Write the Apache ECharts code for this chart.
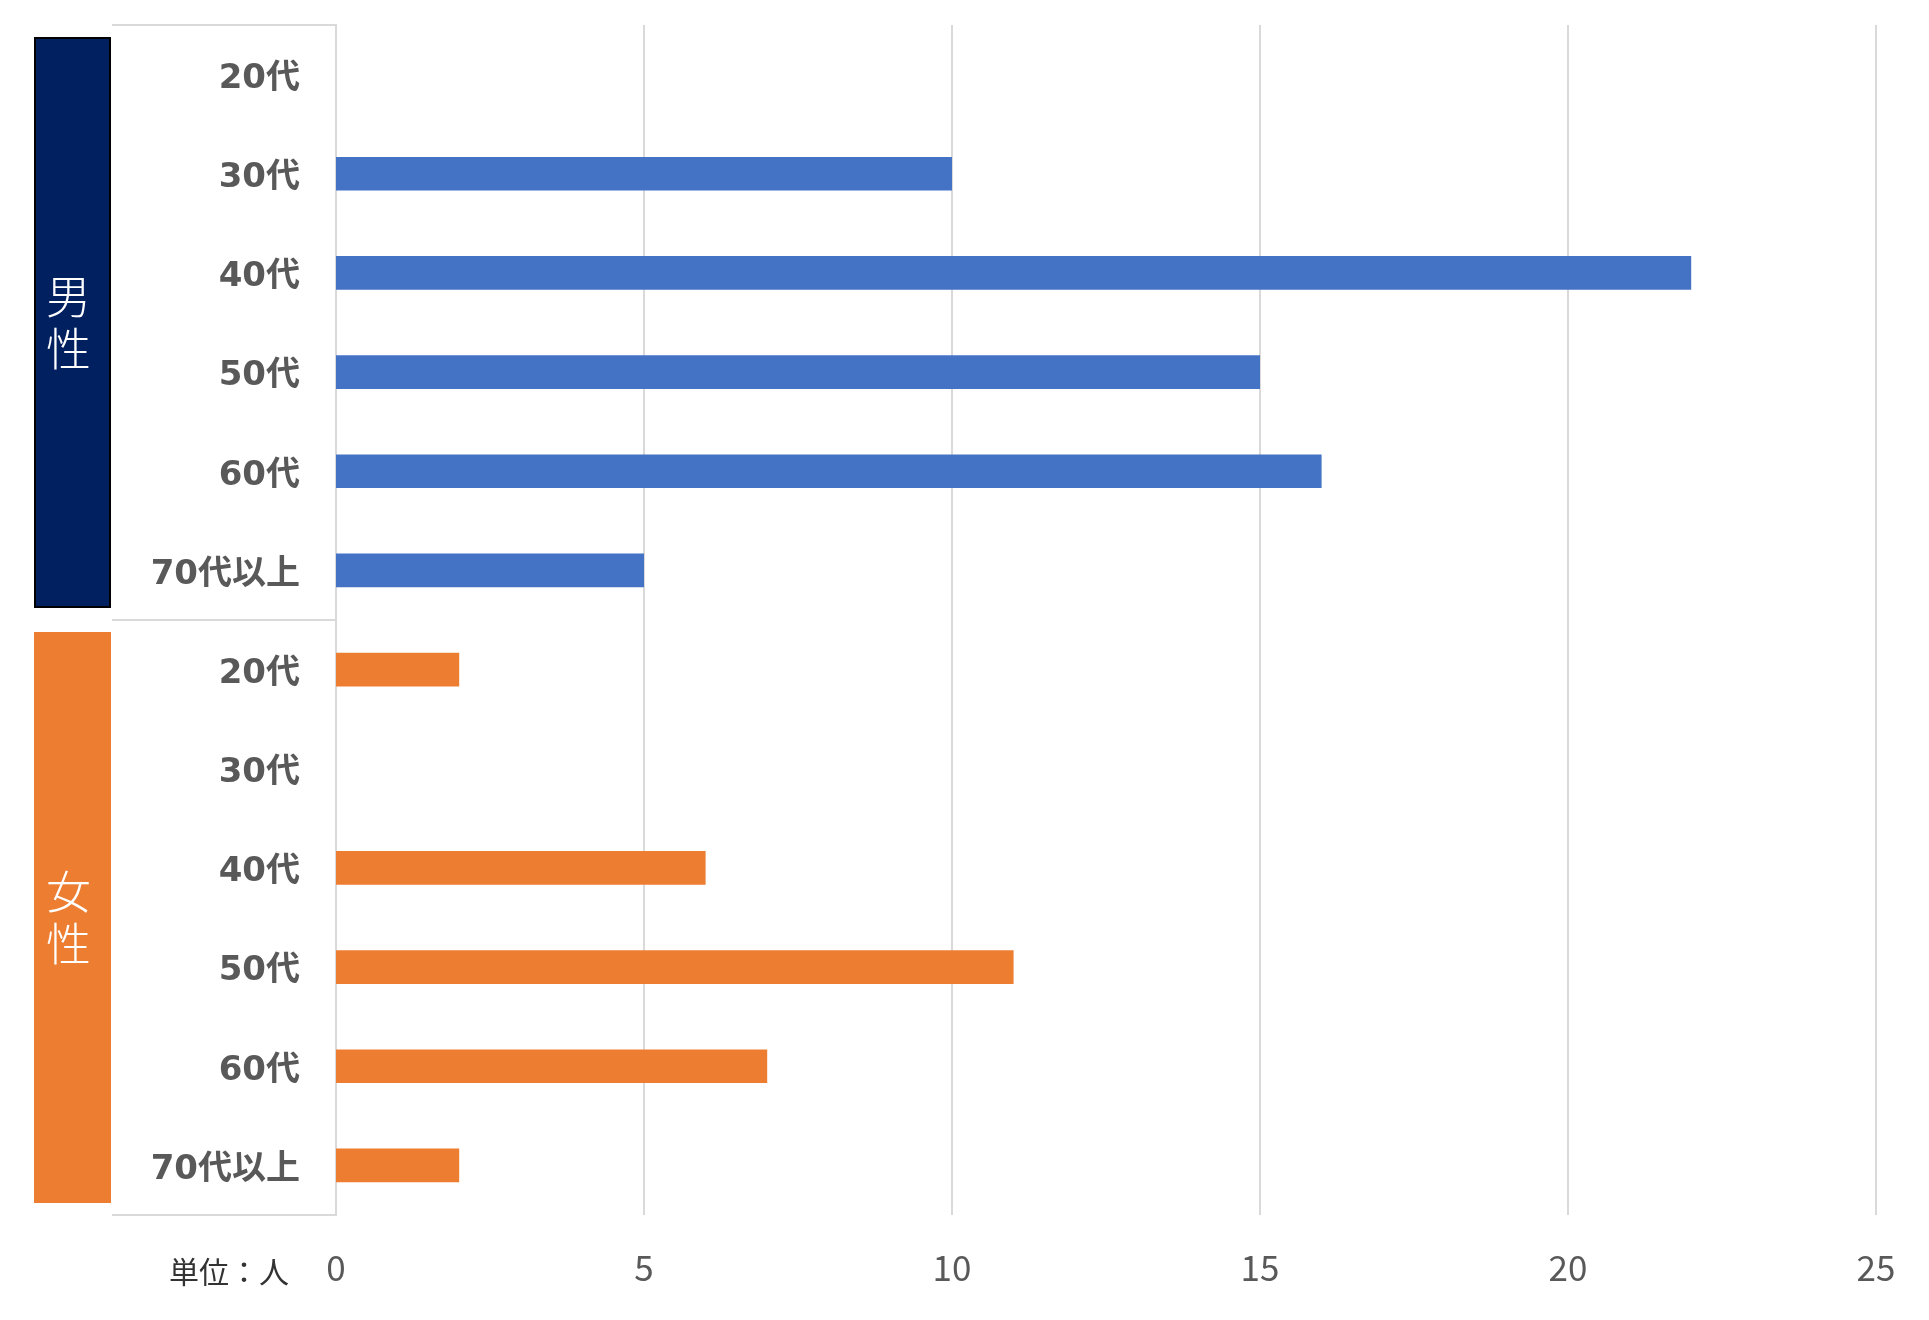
<!DOCTYPE html>
<html><head><meta charset="utf-8">
<script src="https://cdn.jsdelivr.net/npm/echarts@6/dist/echarts.min.js"></script>
<style>html,body{margin:0;padding:0;background:#fff}#c{width:1929px;height:1320px}</style>
</head><body><div id="c"></div>
<script>
const categories = ['20代','30代','40代','50代','60代','70代以上','20代','30代','40代','50代','60代','70代以上'];
const groups = ['男性','女性'];
const maleValues = [0,10,22,15,16,5,null,null,null,null,null,null];
const femaleValues = [null,null,null,null,null,null,2,0,6,11,7,2];
const xTicks = {min:0, max:25, interval:5};
const unitLabel = '単位：人';

const font = '"Noto Sans CJK JP", "Noto Sans", sans-serif';
const labelFont = '"DejaVu Sans", "Noto Sans CJK JP", sans-serif';
const chart = echarts.init(document.getElementById('c'), null, {renderer:'canvas'});
chart.setOption({
  backgroundColor:'#fff',
  animation:false,
  title:{text:unitLabel,left:164,top:1252,textStyle:{fontFamily:font,fontSize:30,fontWeight:'normal',color:'#333'}},
  grid:[
    {left:336,right:53,top:25,bottom:105},
    {left:34,width:77,top:25,bottom:105}
  ],
  xAxis:[
    {gridIndex:0,type:'value',min:xTicks.min,max:xTicks.max,interval:xTicks.interval,
     axisLine:{show:false},axisTick:{show:false},
     splitLine:{lineStyle:{color:'#d9d9d9',width:2}},
     axisLabel:{fontFamily:font,fontSize:35,color:'#595959',margin:35}},
    {gridIndex:1,type:'value',min:0,max:1,show:false}
  ],
  yAxis:[
    {gridIndex:0,type:'category',data:categories,inverse:true,
     axisLine:{show:true,lineStyle:{color:'#d9d9d9',width:2}},
     axisTick:{show:false},
     axisLabel:{margin:36,formatter:v=>'{a|'+v+'}',
       rich:{a:{fontFamily:labelFont,fontSize:34,fontWeight:'bold',color:'#595959',padding:[9,0,0,0]}}}},
    {gridIndex:1,type:'category',data:groups,inverse:true,position:'left',offset:-78,
     axisLine:{show:false},
     axisTick:{show:true,inside:true,length:225,lineStyle:{color:'#d9d9d9',width:2}},
     axisLabel:{show:false}}
  ],
  series:[
    {type:'bar',name:'男性',xAxisIndex:0,yAxisIndex:0,stack:'s',data:maleValues,barWidth:'34%',
     itemStyle:{color:'#4472C4'}},
    {type:'bar',name:'女性',xAxisIndex:0,yAxisIndex:0,stack:'s',data:femaleValues,barWidth:'34%',
     itemStyle:{color:'#ED7D31'}},
    {type:'bar',xAxisIndex:1,yAxisIndex:1,barWidth:'96%',
     data:[
       {value:1,itemStyle:{color:'#002060',borderColor:'#000',borderWidth:2}},
       {value:1,itemStyle:{color:'#ED7D31'}}
     ],
     label:{show:true,position:'inside',offset:[-4,0],color:'#fff',fontFamily:font,fontSize:45,lineHeight:52,fontWeight:300,
       formatter:p=>p.name.split('').join('\n')}}
  ]
});
</script></body></html>
